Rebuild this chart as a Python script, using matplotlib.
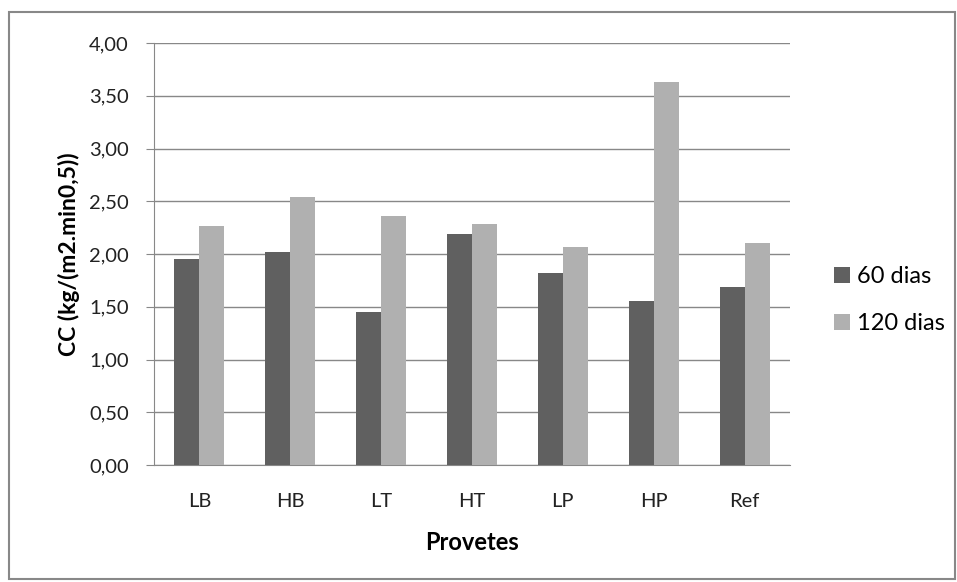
import numpy as np
import matplotlib
matplotlib.use('Agg')
from matplotlib import pyplot as plt
from matplotlib.patches import Rectangle
from matplotlib.ticker import FuncFormatter

provetes = ['LB', 'HB', 'LT', 'HT', 'LP', 'HP', 'Ref']
dias60 = [1.95, 2.02, 1.45, 2.19, 1.82, 1.55, 1.69]
dias120 = [2.27, 2.54, 2.36, 2.28, 2.07, 3.63, 2.10]

plt.rcParams['font.family'] = ['Lato', 'DejaVu Sans']

fig = plt.figure(figsize=(9.57, 5.82), dpi=100)
fig.patches.append(Rectangle((9/957, 3/582), 946/957, 567/582, transform=fig.transFigure,
                             fill=False, edgecolor='#888888', linewidth=1.5))

ax = fig.add_axes([154/957, 117/582, 636/957, 422/582])
x = np.arange(len(provetes))
w = 0.275
ax.bar(x - w/2, dias60, w, color='#606060', label='60 dias', zorder=3)
ax.bar(x + w/2, dias120, w, color='#b0b0b0', label='120 dias', zorder=3)

ax.set_xlim(-0.5, len(provetes) - 0.5)
ax.set_ylim(0, 4)
ax.set_yticks(np.arange(0, 4.01, 0.5))
ax.yaxis.set_major_formatter(FuncFormatter(lambda v, p: ('%.2f' % v).replace('.', ',')))
ax.set_xticks(x)
ax.set_xticklabels(provetes)
ax.grid(axis='y', color='#888888', linewidth=1, zorder=0)
for s in ['top', 'right']:
    ax.spines[s].set_visible(False)
for s in ['left', 'bottom']:
    ax.spines[s].set_color('#888888')
ax.tick_params(axis='y', length=6, color='#888888', labelsize=14.5, labelcolor='#222222', pad=12)
ax.tick_params(axis='x', length=0, labelsize=14.5, labelcolor='#222222', pad=20)
ax.set_xlabel('Provetes', fontsize=17, fontweight='bold', labelpad=15)
ax.set_ylabel('CC (kg/(m2.min0,5))', fontsize=16.5, fontweight='bold', labelpad=7)

ax.legend(loc='center left', bbox_to_anchor=(1.035, 0.39), frameon=False, fontsize=17,
          handlelength=0.7, handleheight=0.7, handletextpad=0.3, labelspacing=1.1)

fig.savefig('out.png', dpi=100)
